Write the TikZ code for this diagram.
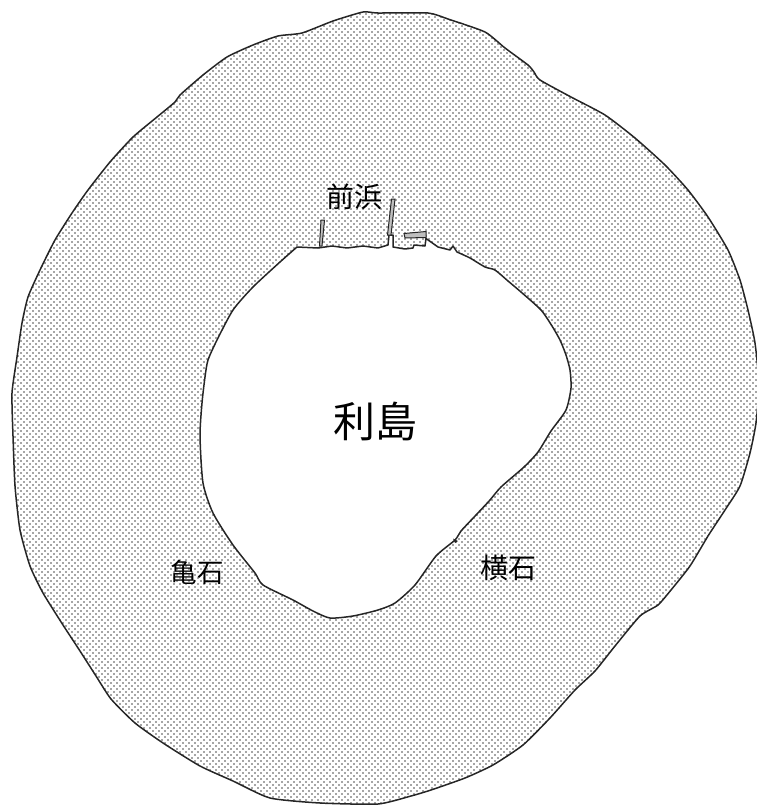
\documentclass[tikz,border=0pt]{standalone}
\usepackage{fontspec}
\newfontfamily\cjk{Noto Sans CJK JP}
\usetikzlibrary{patterns.meta}
\tikzset{
  sea/.style={line width=1.5pt,draw=black!85,line join=round,even odd rule,
    pattern={Dots[radius=1.02pt,distance=4.2426pt,angle=45]},pattern color=black!82},
  pier/.style={line width=1pt,draw=black!85,fill=black!25,line join=miter},
  place/.style={font=\cjk,text=black,inner sep=0pt,anchor=center}
}
\begin{document}
\begin{tikzpicture}[x=1pt,y=-1pt]
\useasboundingbox (0,0) rectangle (756,806);
\draw[sea]
  plot[smooth cycle,tension=.35] coordinates {
   (363,12) (378,13) (428,13) (448,19) (485,32) (505,48) (528,65) (534,72) (540,80) (571,97) (605,115) (635,138) (665,165)
   (688,190) (708,217) (728,250) (740,280) (748,310) (755,343) (759,385) (756,423) (750,453) (740,486) (725,510)
   (708,536) (690,566) (671,590) (658,605) (640,616) (615,646) (595,671) (575,690) (550,718) (523,745)
   (493,765) (465,778) (431,790) (411,796) (378,804) (320,803) (270,798) (233,781) (200,766) (163,743)
   (135,723) (111,699) (96,676) (80,651) (63,625) (43,593) (30,566) (20,530) (15,486) (13,436) (12,393)
   (17,357) (22,323) (28,297) (40,270) (55,240) (72,213) (88,190) (110,162) (133,137) (157,117) (175,102)
   (180,95) (203,75) (227,57) (253,45) (278,36) (302,33) (333,21)
  }
  plot[smooth,tension=.4] coordinates {
   (457,252) (470,258) (485,267) (495,270) (508,281) (521,292) (541,310)
   (552,326) (560,340) (566,355) (570,370) (571,388) (566,410) (551,431) (538,452) (524,467)
   (501,487) (490,500) (476,515) (461,531) (455,540) (436,556) (415,585) (395,603) (378,610)
   (353,616) (330,618) (313,611) (293,600) (263,585) (255,573) (233,545) (213,513)
   (203,483) (200,436) (202,403) (205,377) (208,360) (217,340) (233,310) (253,287)
   (280,262) (297,247)
  }
  -- (318,248) -- (332,246) -- (347,248) -- (363,246) -- (378,248) -- (388,245) -- (389,235)
  -- (393,235) -- (393,247) -- (405,249) -- (413,248) -- (414,245) -- (425,246) -- (426,238.5) -- (438,247)
  -- (450,250) -- (453,246) -- cycle;
\draw[pier] (319.5,246) -- (321,220) -- (324.5,220) -- (322,246) -- cycle;
\draw[pier] (387.5,235) -- (391.5,199) -- (395,199) -- (391,235) -- cycle;
\draw[pier] (404,233.5) -- (426,231.5) -- (426,237.5) -- (405,238) -- cycle;
\fill[black!85] (453,538.5) -- (458,541) -- (455,543) -- cycle;
\node[place,font=\cjk\fontsize{28}{28}\selectfont] (maehama) at (354.5,197) {前浜};
\node[place,font=\cjk\fontsize{26.5}{27}\selectfont] (kameishi) at (197,572) {亀石};
\node[place,font=\cjk\fontsize{28}{28}\selectfont] (yokoishi) at (508,568) {横石};
\node[place,font=\cjk\fontsize{42}{42}\selectfont] (toshima) at (375,421) {利島};
\end{tikzpicture}
\end{document}
